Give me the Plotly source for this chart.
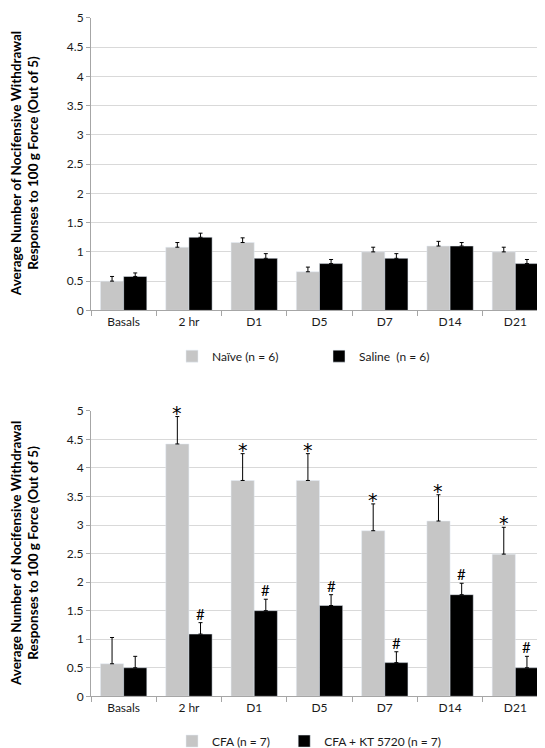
import plotly.graph_objects as go

categories = ["Basals", "2 hr", "D1", "D5", "D7", "D14", "D21"]

naive = [0.50, 1.08, 1.16, 0.66, 1.00, 1.10, 1.00]
naive_err = [0.08, 0.08, 0.08, 0.08, 0.08, 0.08, 0.08]
saline = [0.58, 1.25, 0.89, 0.80, 0.89, 1.10, 0.80]
saline_err = [0.06, 0.07, 0.08, 0.07, 0.08, 0.06, 0.07]

cfa = [0.57, 4.42, 3.78, 3.78, 2.90, 3.07, 2.49]
cfa_err = [0.46, 0.48, 0.47, 0.47, 0.47, 0.46, 0.47]
kt = [0.50, 1.09, 1.50, 1.59, 0.59, 1.78, 0.50]
kt_err = [0.20, 0.20, 0.20, 0.19, 0.19, 0.20, 0.20]
cfa_marks = ["", "*", "*", "*", "*", "*", "*"]
kt_marks = ["", "#", "#", "#", "#", "#", "#"]

GRAY = "#c6c6c6"
BLACK = "#000000"
FONT = "Lato"
TXT = "#1a1a1a"
W, H = 545, 748
BARGAP = 0.29

def err(vals):
    return dict(type="data", array=vals, arrayminus=[0] * len(vals), symmetric=False,
                color="#000000", thickness=1, width=2)

fig = go.Figure()
fig.add_trace(go.Bar(x=categories, y=naive, name="Naïve (n = 6)", marker_color=GRAY,
                     error_y=err(naive_err), xaxis="x", yaxis="y", legend="legend"))
fig.add_trace(go.Bar(x=categories, y=saline, name="Saline  (n = 6)", marker_color=BLACK,
                     error_y=err(saline_err), xaxis="x", yaxis="y", legend="legend"))
fig.add_trace(go.Bar(x=categories, y=cfa, name="CFA (n = 7)\u00a0\u00a0\u00a0", marker_color=GRAY,
                     error_y=err(cfa_err), xaxis="x2", yaxis="y2", legend="legend2"))
fig.add_trace(go.Bar(x=categories, y=kt, name="CFA + KT 5720 (n = 7)", marker_color=BLACK,
                     error_y=err(kt_err), xaxis="x2", yaxis="y2", legend="legend2"))

# significance marks above error bars
half = (1 - BARGAP) / 4
annotations = []
for i, c in enumerate(categories):
    if cfa_marks[i]:
        annotations.append(dict(x=i - half, y=cfa[i] + cfa_err[i], xref="x2", yref="y2",
                                text=cfa_marks[i], showarrow=False, yanchor="bottom",
                                xanchor="center", yshift=-9,
                                font=dict(family="DejaVu Sans", size=19, color="#000")))
    if kt_marks[i]:
        annotations.append(dict(x=i + half, y=kt[i] + kt_err[i], xref="x2", yref="y2",
                                text=kt_marks[i], showarrow=False, yanchor="bottom",
                                xanchor="center", yshift=-2,
                                font=dict(family=FONT, size=15, color="#000")))

ytitle = "Average Number of Nocifensive Withdrawal<br>Responses to 100 g Force (Out of 5)"
for yc in (157, 549):
    annotations.append(dict(x=17 / W, y=(H - yc) / H, xref="paper", yref="paper",
                            xanchor="center", yanchor="middle",
                            text=ytitle, textangle=-90, showarrow=False,
                            font=dict(family=FONT, size=13.5, color="#000", weight="bold")))

xdom = [83 / W, 540 / W]
common_x = dict(domain=xdom, type="category", showline=True, linecolor="#a6a6a6", linewidth=1,
                ticks="outside", tickson="boundaries", ticklen=5, tickcolor="#a6a6a6",
                tickfont=dict(family=FONT, size=12, color=TXT), showgrid=False,
                automargin=False)
common_y = dict(range=[0, 5], dtick=0.5, showline=True, linecolor="#a6a6a6", linewidth=1,
                ticks="outside", ticklen=4, tickcolor="#a6a6a6", showgrid=True,
                gridcolor="#d9d9d9", gridwidth=1, zeroline=False,
                tickfont=dict(family=FONT, size=12, color=TXT), automargin=False)

fig.update_layout(
    width=W, height=H, margin=dict(l=0, r=0, t=0, b=0),
    paper_bgcolor="white", plot_bgcolor="white",
    barmode="group", bargap=BARGAP, bargroupgap=0,
    xaxis=dict(common_x, anchor="y"),
    yaxis=dict(common_y, domain=[(H - 304) / H, (H - 10) / H], anchor="x"),
    xaxis2=dict(common_x, anchor="y2"),
    yaxis2=dict(common_y, domain=[(H - 692) / H, (H - 405) / H], anchor="x2"),
    legend=dict(orientation="h", x=164 / W, xanchor="left", y=(H - 350) / H, yanchor="middle",
                font=dict(family=FONT, size=12, color=TXT), entrywidth=102,
                entrywidthmode="pixels", itemwidth=30, traceorder="normal"),
    legend2=dict(orientation="h", x=164 / W, xanchor="left", y=(H - 737) / H, yanchor="middle",
                 font=dict(family=FONT, size=12, color=TXT),
                 itemwidth=30, traceorder="normal"),
    annotations=annotations,
    font=dict(family=FONT),
)

fig.write_html("out.html")
